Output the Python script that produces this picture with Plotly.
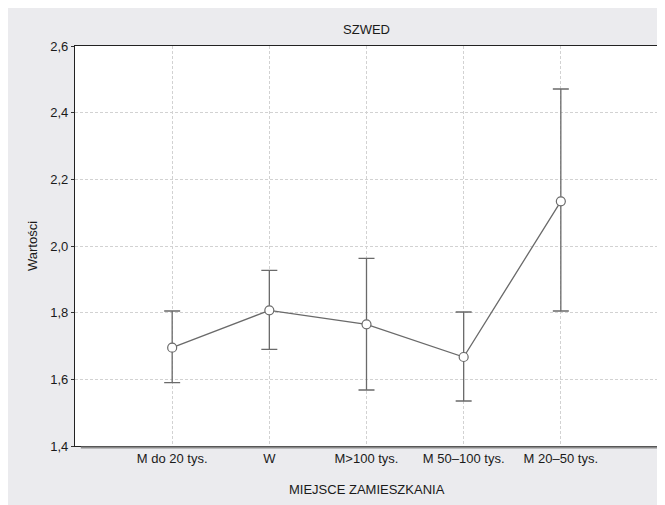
import plotly.graph_objects as go

categories = ["M do 20 tys.", "W", "M>100 tys.", "M 50–100 tys.", "M 20–50 tys."]
means = [1.695, 1.807, 1.765, 1.667, 2.134]
upper = [1.805, 1.927, 1.963, 1.802, 2.471]
lower = [1.590, 1.690, 1.568, 1.535, 1.805]

err_plus = [u - m for u, m in zip(upper, means)]
err_minus = [m - l for m, l in zip(means, lower)]
xpos = list(range(len(categories)))

W, H = 657, 497
L, R, T, B = 67, 7, 38, 59
PW, PH = W - L - R, H - T - B

font = "Liberation Sans, Arial, sans-serif"
fig = go.Figure()
fig.add_trace(go.Scatter(
    x=xpos, y=means, mode="lines+markers",
    line=dict(color="#6a6a6a", width=1.3),
    marker=dict(symbol="circle", size=9, color="white",
                line=dict(color="#6a6a6a", width=1.2)),
    error_y=dict(type="data", symmetric=False, array=err_plus, arrayminus=err_minus,
                 color="#6a6a6a", thickness=1.3, width=8),
    showlegend=False,
))

fig.update_layout(
    width=W, height=H,
    margin=dict(l=L, r=R, t=T, b=B),
    paper_bgcolor="#ebebee", plot_bgcolor="white",
    font=dict(family=font, size=13, color="#1a1a1a"),
    title=dict(text="SZWED", x=(L + PW / 2) / W, xanchor="center",
               y=1 - 21 / H, yanchor="middle", font=dict(size=13, family=font, color="#1a1a1a")),
    xaxis=dict(
        range=[-1, 5], tickmode="array", tickvals=xpos, ticktext=categories,
        showgrid=True, gridcolor="#d2d2d2", griddash="3px,2px", gridwidth=1,
        showline=True, linecolor="#222", linewidth=1.2, mirror=True,
        ticks="", zeroline=False, tickfont=dict(size=13),
    ),
    yaxis=dict(
        range=[1.4, 2.6], tickvals=[1.4, 1.6, 1.8, 2.0, 2.2, 2.4, 2.6],
        ticktext=["1,4", "1,6", "1,8", "2,0", "2,2", "2,4", "2,6"],
        showgrid=True, gridcolor="#d2d2d2", griddash="3px,2px", gridwidth=1,
        showline=True, linecolor="#222", linewidth=1.2, mirror=True,
        ticks="outside", ticklen=3, tickcolor="#333",
        zeroline=False, tickfont=dict(size=13),
    ),
    annotations=[
        dict(text="MIEJSCE ZAMIESZKANIA", xref="paper", yref="paper",
             x=0.5, y=-(481 - T - PH) / PH, xanchor="center", yanchor="middle",
             showarrow=False, font=dict(size=13)),
        dict(text="Wartości", xref="paper", yref="paper", textangle=-90,
             x=-(L - 24) / PW, y=1 - (238 - T) / PH, xanchor="center", yanchor="middle",
             showarrow=False, font=dict(size=13)),
    ],
    shapes=[
        dict(type="line", xref="paper", yref="paper", layer="above",
             x0=1.003, x1=1.003, y0=-0.004, y1=0.99,
             line=dict(color="#8a8a8a", width=2)),
        dict(type="line", xref="paper", yref="paper", layer="above",
             x0=0.01, x1=1.004, y0=-0.004, y1=-0.004,
             line=dict(color="#8a8a8a", width=2)),
    ],
)

fig.write_html("out.html")
